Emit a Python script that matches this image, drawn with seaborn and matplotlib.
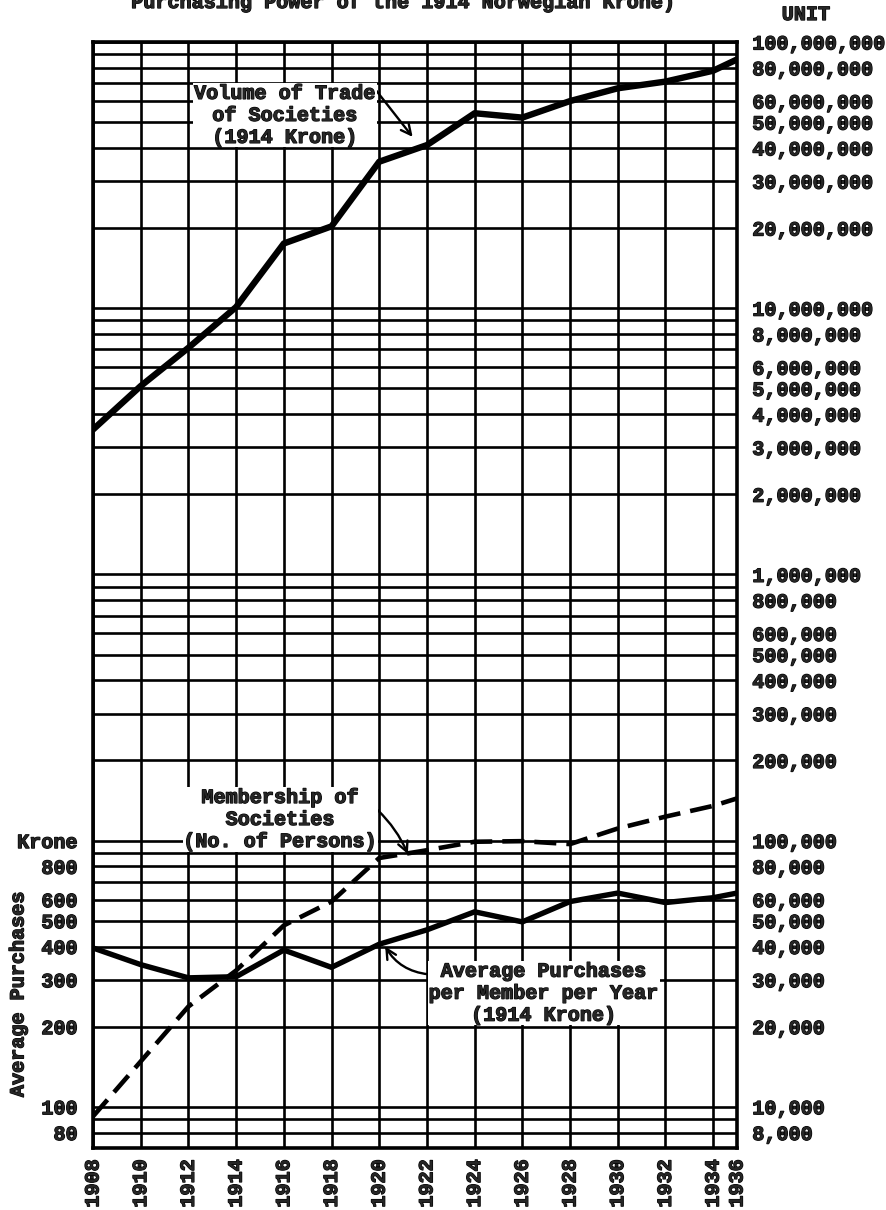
import numpy as np
import pandas as pd
import seaborn as sns
import matplotlib
matplotlib.use('Agg')
import matplotlib.pyplot as plt
import matplotlib.patheffects as pe
from matplotlib.ticker import FixedLocator, LogLocator, NullFormatter, NullLocator

# values (last column of the grid is labelled 1936)
years = [1908, 1910, 1912, 1914, 1916, 1918, 1920, 1922, 1924, 1926, 1928, 1930, 1932, 1934, 1935]
trade_volume = [3.5e6, 5.1e6, 7.1e6, 10.1e6, 17.5e6, 20.3e6, 35.5e6, 41e6, 54e6, 52e6, 60e6, 67e6, 71e6, 78e6, 86e6]
membership = [9200, 14800, 23800, 32500, 48000, 59000, 86000, 92000, 99000, 99500, 97000, 111000, 123000, 135000, 144000]
avg_purchases = [395, 342, 305, 308, 388, 334, 408, 462, 540, 495, 590, 635, 585, 610, 635]

unit_ticks = [1e8, 8e7, 6e7, 5e7, 4e7, 3e7, 2e7, 1e7, 8e6, 6e6, 5e6, 4e6, 3e6, 2e6,
              1e6, 8e5, 6e5, 5e5, 4e5, 3e5, 2e5, 1e5, 8e4, 6e4, 5e4, 4e4, 3e4, 2e4, 1e4, 8e3]
krone_ticks = [1000, 800, 600, 500, 400, 300, 200, 100, 80]
krone_labels = ['Krone', '800', '600', '500', '400', '300', '200', '100', '80']
year_ticks = [1908, 1910, 1912, 1914, 1916, 1918, 1920, 1922, 1924, 1926, 1928, 1930, 1932, 1934, 1935]
year_labels = ['1908', '1910', '1912', '1914', '1916', '1918', '1920', '1922', '1924', '1926',
               '1928', '1930', '1932', '1934', '1936']

sns.set_style('white')
plt.rcParams['font.family'] = ['Liberation Mono', 'DejaVu Sans Mono']
plt.rcParams['font.weight'] = 'bold'
FS = 14.5
heavy = [pe.withStroke(linewidth=0.9, foreground='black')]

df = pd.DataFrame({'year': years, 'trade': trade_volume, 'members': membership, 'purchases': avg_purchases})

fig = plt.figure(figsize=(8.86, 12.10), dpi=100)
ax = fig.add_axes([93 / 886, 1 - 1148 / 1210, (737 - 93) / 886, (1148 - 42) / 1210])
ax.set_yscale('log')

sns.lineplot(data=df, x='year', y='trade', ax=ax, color='black', lw=4.6, zorder=5)
sns.lineplot(data=df, x='year', y='members', ax=ax, color='black', lw=3.3, zorder=5,
             linestyle=(0, (4.8, 2.2)))

ax.set_xlim(1908, 1935)
ax.set_ylim(7000, 1e8)
ax.set_xlabel('')
ax.set_ylabel('')

# left axis: krone (twinx moves the first axis' ticks, so sides are set afterwards)
ax2 = ax.twinx()
ax2.set_yscale('log')
sns.lineplot(data=df, x='year', y='purchases', ax=ax2, color='black', lw=3.9, zorder=5)
ax2.set_ylim(70, 1e6)
ax2.set_ylabel('')
ax2.yaxis.set_major_locator(FixedLocator(krone_ticks))
ax2.set_yticklabels(krone_labels)
ax2.yaxis.set_minor_locator(NullLocator())
ax2.yaxis.tick_left()
ax2.tick_params(axis='y', which='both', length=0, labelsize=FS, pad=11)
for s in ax2.spines.values():
    s.set_visible(False)

# right axis: units
ax.yaxis.set_major_locator(FixedLocator(unit_ticks))
ax.set_yticklabels([f'{int(v):,}' for v in unit_ticks])
ax.yaxis.set_minor_locator(LogLocator(base=10, subs=np.arange(1, 10), numticks=60))
ax.yaxis.set_minor_formatter(NullFormatter())
ax.yaxis.tick_right()
ax.set_xticks(year_ticks)
ax.set_xticklabels(year_labels, rotation=90)
ax.tick_params(axis='both', which='both', length=0, labelsize=FS)
ax.tick_params(axis='y', pad=11)
ax.tick_params(axis='x', pad=8)
ax.grid(True, which='both', axis='y', color='black', lw=1.9)
ax.grid(True, which='major', axis='x', color='black', lw=1.9)
for s in ax.spines.values():
    s.set_visible(True)
    s.set_color('black')
    s.set_linewidth(2.6)

for t in ax.get_xticklabels() + ax.get_yticklabels() + ax2.get_yticklabels():
    t.set_path_effects(heavy)

box = dict(facecolor='white', edgecolor='none', pad=0.5)
arrow = dict(arrowstyle='->', color='black', lw=1.7, mutation_scale=18, shrinkA=0, shrinkB=0)
a1 = ax.annotate('Volume of Trade\nof Societies\n(1914 Krone)', xy=(1921.4, 4.4e7), xytext=(1916.05, 5.3e7),
                 ha='center', va='center', fontsize=FS, bbox=box, zorder=6,
                 arrowprops=dict(arrow, relpos=(1.0, 0.9)))
a2 = ax.annotate('Membership of\nSocieties\n(No. of Persons)', xy=(1921.2, 8.9e4), xytext=(1915.85, 1.2e5),
                 ha='center', va='center', fontsize=FS, bbox=box, zorder=6,
                 arrowprops=dict(arrow, relpos=(0.9, 0.9), connectionstyle='arc3,rad=-0.15'))
a3 = ax.annotate('Average Purchases\nper Member per Year\n(1914 Krone)', xy=(1920.25, 4.0e4), xytext=(1926.9, 2.67e4),
                 ha='center', va='center', fontsize=FS, bbox=box, zorder=6,
                 arrowprops=dict(arrow, relpos=(0.0, 0.8), connectionstyle='arc3,rad=-0.25'))

texts = [a1, a2, a3]
# the title is cut by the top edge in the source scan
texts.append(fig.text(404 / 886, 1 - 8 / 1210, 'Purchasing Power of the 1914 Norwegian Krone)',
                      ha='center', va='baseline', fontsize=FS))
texts.append(fig.text(806 / 886, 1 - 20 / 1210, 'UNIT', ha='center', va='baseline', fontsize=FS))
texts.append(fig.text(18 / 886, 1 - 994 / 1210, 'Average Purchases', rotation=90,
                      ha='center', va='center', fontsize=FS))
for t in texts:
    t.set_path_effects(heavy)

fig.savefig('out.png', dpi=100)
